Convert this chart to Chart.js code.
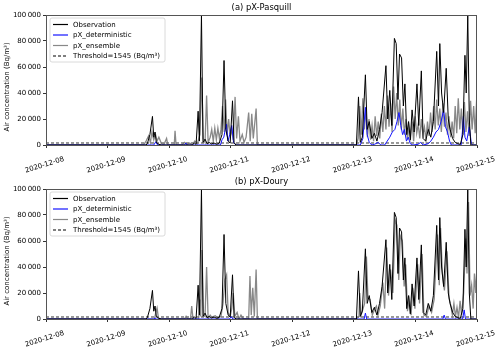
<!DOCTYPE html>
<html>
<head>
<meta charset="utf-8">
<script src="https://cdn.jsdelivr.net/npm/chart.js@4/dist/chart.umd.min.js"></script>
<style>
  body { margin: 0; background: #fff; }
  canvas { display: block; }
</style>
</head>
<body>
<canvas id="chartA" width="500" height="174"></canvas>
<canvas id="chartB" width="500" height="174"></canvas>
<script>
// x values are hours since 2020-12-08 00:00
const dayLabels = ["2020-12-08", "2020-12-09", "2020-12-10", "2020-12-11",
                   "2020-12-12", "2020-12-13", "2020-12-14", "2020-12-15"];
const threshold = 1545;
const thresholdLine = [[0, threshold], [168, threshold]];

// [hour, Bq/m3]
const observation = [
  [0, 0], [39, 0], [39.5, 1000], [40.5, 8000], [41.5, 22000], [42, 6000], [42.5, 10000], [43, 2000], [44, 500], [45, 0],
  [57, 0], [57.8, 1500], [58.5, 500], [59.3, 26000], [59.8, 3000], [60.6, 100000], [61.2, 2000], [62, 4500],
  [62.8, 1000], [63.6, 2000], [64.5, 800], [65.5, 1500], [66.5, 600], [67.5, 1200], [68.6, 8000], [69.4, 65000],
  [70.1, 12000], [71, 3000], [71.8, 1500], [72.7, 34000], [73.3, 2000], [74, 0],
  [121, 0], [121.8, 37000], [122.5, 2000], [123.3, 6000], [124.5, 54000], [125.2, 12000], [126, 18000], [127, 5000],
  [128, 9000], [129, 3000], [130, 12000], [131, 25000], [132.5, 61000], [133.2, 20000], [134, 42000], [134.8, 15000],
  [135.8, 82000], [136.5, 78000], [137.2, 35000], [137.8, 70000], [138.6, 67000], [139.3, 30000], [139.9, 47000],
  [140.6, 8000], [141.3, 18000], [142, 4000], [142.7, 27000], [143.5, 10000], [144.6, 47000], [145.3, 15000],
  [146.3, 57000], [147, 5000], [148, 3000], [149, 12000], [150, 6000], [151, 18000], [152.3, 72000], [153, 30000],
  [153.5, 78000], [154.2, 40000], [155, 25000], [156, 59000], [156.8, 20000], [157.5, 12000], [158.5, 5000],
  [159.5, 2000], [160.5, 1000], [161.5, 500], [162.5, 8000], [163.3, 69000], [163.8, 40000], [164.4, 100000],
  [165, 20000], [165.6, 0], [168, 0]
];

const pasquillDet = [
  [0, 0], [42, 0], [42.8, 2500], [43.5, 0], [54, 0], [54.5, 1500], [55, 0], [68, 0], [68.6, 4000], [69.3, 6000],
  [70.3, 16000], [70.9, 3000], [71.6, 8000], [72.4, 15000], [73.1, 2000], [74, 0],
  [122.5, 0], [123.5, 5000], [124.5, 29000], [125.2, 8000], [126, 2000], [127, 0], [128, 500], [129.5, 2000],
  [130.5, 0], [132, 0], [133, 3000], [134, 6000], [135, 10000], [136, 12000], [136.8, 18000], [137.6, 25000],
  [138.3, 15000], [139, 8000], [139.7, 12000], [140.5, 3000], [141.2, 6000], [142, 1000], [143, 0], [145, 500],
  [146, 2000], [147, 0], [149, 1000], [150, 3000], [151, 6000], [152, 10000], [153, 12000], [154, 18000],
  [155, 27000], [155.7, 14000], [156.5, 10000], [157.3, 3000], [158, 0], [161.8, 0], [162.3, 10000],
  [162.7, 22000], [163.3, 6000], [164, 3000], [165, 14000], [165.8, 1000], [166.3, 0], [168, 0]
];

const pasquillEns = [
  [0, 0], [38, 0], [39, 3000], [40, 7000], [40.7, 2000], [41.3, 10000], [42, 4000], [42.7, 8000], [43.3, 3000],
  [44, 6000], [45, 1000], [46, 500], [47, 5000], [47.5, 0], [50, 0], [50.3, 11000], [50.7, 0],
  [53, 0], [54, 2000], [55, 500], [56, 1500], [57, 0], [58, 3000], [59, 1000], [60, 8000], [60.7, 52000],
  [61.3, 5000], [62, 2000], [62.6, 38000], [63.2, 2000], [64, 6000], [64.6, 12000], [65.2, 3000], [65.8, 13000],
  [66.4, 4000], [67, 13000], [67.6, 5000], [68.2, 12000], [68.8, 30000], [69.5, 10000], [70, 35000],
  [70.6, 8000], [71.2, 20000], [71.8, 6000], [72.4, 12000], [73, 4000], [73.7, 37000], [74.3, 5000],
  [75, 22000], [75.6, 3000], [76.5, 8000], [77.2, 2000], [78, 6000], [79, 25000], [79.6, 3000], [80.2, 24000],
  [80.8, 5000], [81.9, 28000], [82.4, 0],
  [121, 0], [121.7, 5000], [122.3, 30000], [122.9, 8000], [123.5, 36000], [124.1, 12000], [124.7, 28000],
  [125.3, 6000], [125.9, 20000], [126.5, 4000], [127.1, 15000], [127.7, 3000], [128.3, 22000], [128.9, 7000],
  [129.5, 18000], [130.1, 5000], [130.7, 24000], [131.3, 10000], [131.9, 30000], [132.5, 12000], [133.1, 38000],
  [133.7, 14000], [134.3, 32000], [134.9, 10000], [135.5, 45000], [136.1, 20000], [136.7, 40000], [137.3, 15000],
  [137.9, 35000], [138.5, 12000], [139.1, 28000], [139.7, 8000], [140.3, 20000], [140.9, 4000], [141.5, 15000],
  [142.1, 6000], [142.7, 18000], [143.3, 3000], [143.9, 22000], [144.5, 9000], [145.1, 16000], [145.7, 5000],
  [146.3, 20000], [146.9, 8000], [147.5, 14000], [148.1, 4000], [148.7, 18000], [149.3, 7000], [149.9, 25000],
  [150.5, 10000], [151.1, 30000], [151.7, 12000], [152.3, 35000], [152.9, 15000], [153.5, 28000], [154.1, 10000],
  [154.7, 32000], [155.3, 14000], [155.9, 25000], [156.5, 8000], [157.1, 22000], [157.7, 6000], [158.3, 18000],
  [158.9, 5000], [159.5, 30000], [160.1, 9000], [160.7, 36000], [161.3, 12000], [161.9, 28000], [162.5, 8000],
  [163.1, 33000], [163.7, 10000], [164.3, 26000], [164.9, 7000], [165.5, 34000], [166.1, 12000], [166.7, 30000],
  [167.3, 9000], [167.9, 37000]
];

const douryDet = [
  [0, 0], [42, 0], [42.5, 800], [43, 0], [71.5, 0], [72.2, 1800], [72.8, 0], [124, 0], [124.5, 4500], [125, 0],
  [154.7, 0], [155.2, 3000], [155.7, 0], [162.4, 0], [163, 7000], [163.5, 0], [168, 0]
];

const douryEns = [
  [0, 0], [42.3, 0], [42.8, 5000], [43.3, 8500], [43.8, 1000], [44.5, 0],
  [54, 0], [54.6, 2000], [55.2, 0], [56.3, 0], [56.8, 10000], [57.3, 0], [59.5, 0], [59.9, 15000], [60.3, 2000],
  [60.8, 53000], [61.4, 3000], [62, 2000], [62.6, 40000], [63.2, 0], [64, 3000], [64.6, 1500], [66, 2500],
  [67, 500], [68.2, 2000], [69, 12000], [69.7, 30000], [70.4, 34000], [71, 5000], [71.8, 2000], [72.4, 8000],
  [73, 20000], [73.6, 2000], [74.5, 5000], [75.2, 0], [76, 3000], [77, 0], [79, 0], [79.5, 33000], [80, 3000],
  [80.6, 24000], [81.2, 2000], [81.9, 38000], [82.4, 0],
  [121, 0], [122, 2000], [122.3, 20000], [122.8, 3000], [123.6, 8000], [124.2, 12000], [124.9, 48000],
  [125.5, 16000], [126.3, 15000], [127.2, 3000], [128.2, 8000], [128.8, 10000], [129.4, 3000], [130.3, 10000],
  [131.3, 28000], [132, 8000], [132.8, 55000], [133.5, 18000], [134.3, 38000], [135.2, 20000], [136.1, 76000],
  [136.8, 72000], [137.5, 30000], [138.1, 64000], [138.9, 60000], [139.6, 25000], [140.2, 42000], [140.9, 6000],
  [141.6, 15000], [142.3, 3000], [143, 24000], [143.8, 8000], [144.9, 42000], [145.6, 12000], [146.6, 50000],
  [147.3, 3000], [148.3, 2000], [149.3, 10000], [150.3, 5000], [151.3, 15000], [152.6, 65000], [153.3, 26000],
  [153.8, 70000], [154.5, 35000], [155.3, 22000], [156.3, 52000], [157.1, 16000], [157.8, 10000], [158.4, 3000],
  [159, 12000], [159.6, 2000], [160.2, 9000], [160.8, 1000], [161.4, 14000], [162, 3000], [162.8, 20000],
  [163.6, 62000], [164.1, 35000], [164.7, 90000], [165.3, 18000], [165.9, 26000], [166.5, 8000], [167, 35000],
  [167.5, 20000], [167.9, 37000]
];

const FONT = "'DejaVu Sans', sans-serif";

function toPoints(pairs) {
  return pairs.map(p => ({ x: p[0], y: p[1] }));
}

function fmtThousands(v) {
  return String(v).replace(/\B(?=(\d{3})+(?!\d))/g, "\u2009");
}

// title, frame and legend drawn inside the axes like matplotlib does
const panelDecor = {
  id: "panelDecor",
  afterDatasetsDraw(chart, args, opts) {
    const ctx = chart.ctx;
    const a = chart.chartArea;
    ctx.save();
    ctx.strokeStyle = "#555";
    ctx.lineWidth = 1;
    ctx.strokeRect(a.left + 0.5, a.top + 0.5, a.right - a.left - 1, a.bottom - a.top);

    ctx.fillStyle = "#000";
    ctx.font = "8.4px " + FONT;
    ctx.textAlign = "center";
    ctx.textBaseline = "middle";
    ctx.fillText(opts.title, (a.left + a.right) / 2, a.top - 7);

    // legend box
    const lx = a.left + 4, ly = a.top + 3, lw = 115, lh = 44, r = 2;
    ctx.beginPath();
    ctx.moveTo(lx + r, ly);
    ctx.arcTo(lx + lw, ly, lx + lw, ly + lh, r);
    ctx.arcTo(lx + lw, ly + lh, lx, ly + lh, r);
    ctx.arcTo(lx, ly + lh, lx, ly, r);
    ctx.arcTo(lx, ly, lx + lw, ly, r);
    ctx.closePath();
    ctx.fillStyle = "rgba(255,255,255,0.85)";
    ctx.fill();
    ctx.strokeStyle = "#d0d0d0";
    ctx.lineWidth = 0.8;
    ctx.stroke();

    ctx.font = "7px " + FONT;
    ctx.textAlign = "left";
    chart.data.datasets.forEach((ds, i) => {
      const y = ly + 6.5 + i * 10.5;
      ctx.beginPath();
      ctx.setLineDash(ds.borderDash || []);
      ctx.strokeStyle = ds.legendColor || ds.borderColor;
      ctx.lineWidth = 1.2;
      ctx.moveTo(lx + 3, y);
      ctx.lineTo(lx + 18, y);
      ctx.stroke();
      ctx.setLineDash([]);
      ctx.fillStyle = "#000";
      ctx.fillText(ds.label, lx + 23, y + 0.5);
    });
    ctx.restore();
  }
};

function makeChart(id, title, det, ens) {
  const ctx = document.getElementById(id).getContext("2d");
  return new Chart(ctx, {
    type: "line",
    data: {
      datasets: [
        { label: "Observation", data: toPoints(observation), borderColor: "#000", borderWidth: 1 },
        { label: "pX_deterministic", data: toPoints(det), borderColor: "#1414ff", borderWidth: 1 },
        { label: "pX_ensemble", data: toPoints(ens), borderColor: "rgba(115,115,115,0.85)",
          legendColor: "#888", borderWidth: 1.3 },
        { label: "Threshold=" + threshold + " (Bq/m\u00b3)", data: toPoints(thresholdLine),
          borderColor: "#000", borderWidth: 0.8, borderDash: [3, 2] }
      ]
    },
    options: {
      responsive: false,
      animation: false,
      parsing: false,
      layout: { padding: { top: 15, right: 23, left: 0, bottom: 0 } },
      elements: { point: { radius: 0 }, line: { tension: 0 } },
      plugins: {
        legend: { display: false },
        tooltip: { enabled: false },
        panelDecor: { title: title }
      },
      scales: {
        x: {
          type: "linear", min: 0, max: 168,
          afterFit: s => { s.height = 29; },
          grid: { drawOnChartArea: false, tickLength: 3, color: "#333" },
          border: { color: "#555" },
          ticks: {
            stepSize: 24, autoSkip: false, minRotation: 17, maxRotation: 17, labelOffset: 18, padding: 7,
            color: "#000", font: { family: FONT, size: 7 },
            callback: v => dayLabels[v / 24]
          }
        },
        y: {
          min: 0, max: 100000,
          afterFit: s => { s.width = 46; },
          grid: { drawOnChartArea: false, tickLength: 3, color: "#333" },
          border: { color: "#555" },
          title: { display: true, text: "Air concentration (Bq/m\u00b3)\u2002\u2002\u2002\u2002", color: "#000",
                   font: { family: FONT, size: 7 }, padding: { top: 3, bottom: 0 } },
          ticks: {
            stepSize: 20000, padding: 2, color: "#000", font: { family: FONT, size: 7 },
            callback: v => fmtThousands(v)
          }
        }
      }
    },
    plugins: [panelDecor]
  });
}

makeChart("chartA", "(a) pX-Pasquill", pasquillDet, pasquillEns);
makeChart("chartB", "(b) pX-Doury", douryDet, douryEns);
</script>
</body>
</html>
